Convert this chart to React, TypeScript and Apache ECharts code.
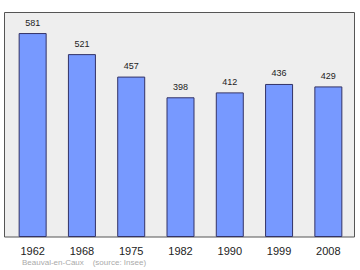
import React, { useEffect, useRef } from "react";
import * as echarts from "echarts";

const years = ["1962", "1968", "1975", "1982", "1990", "1999", "2008"];
const population = [581, 521, 457, 398, 412, 436, 429];
const footer = "Beauval-en-Caux    (source: Insee)";

export default function App() {
  const ref = useRef<HTMLDivElement>(null);
  useEffect(() => {
    if (!ref.current) return;
    const chart = echarts.init(ref.current, null, { renderer: "svg" });
    chart.setOption({
      animation: false,
      grid: {
        left: 8,
        right: 7,
        top: 12,
        bottom: 33,
        show: false,
      },
      xAxis: {
        type: "category",
        data: years,
        axisLine: { show: false },
        axisTick: { show: false },
        axisLabel: {
          fontFamily: "Liberation Sans",
          fontSize: 11,
          color: "#222",
          margin: 8,
        },
      },
      yAxis: {
        type: "value",
        min: 0,
        max: 641,
        show: false,
        splitLine: { show: false },
      },
      series: [
        {
          type: "bar",
          z: 5,
          data: population,
          barWidth: 28,
          itemStyle: {
            color: "#7799ff",
            borderColor: "#333366",
            borderWidth: 1,
          },
          label: {
            show: true,
            position: "top",
            distance: 6,
            fontFamily: "Liberation Sans",
            fontSize: 9,
            color: "#222",
          },
        },
      ],
      graphic: [
        {
          type: "rect",
          z: -10,
          shape: { x: 4.5, y: 12.5, width: 350, height: 224.5 },
          style: { fill: "#eeeeee", stroke: "#555555", lineWidth: 1 },
        },
        {
          type: "text",
          left: 22,
          top: 258,
          style: {
            text: footer,
            fontFamily: "Liberation Sans",
            fontSize: 8,
            fill: "#aaaaaa",
          },
        },
      ],
    });
    return () => chart.dispose();
  }, []);
  return <div ref={ref} style={{ width: 360, height: 270, position: "absolute", left: 0, top: 0 }} />;
}
